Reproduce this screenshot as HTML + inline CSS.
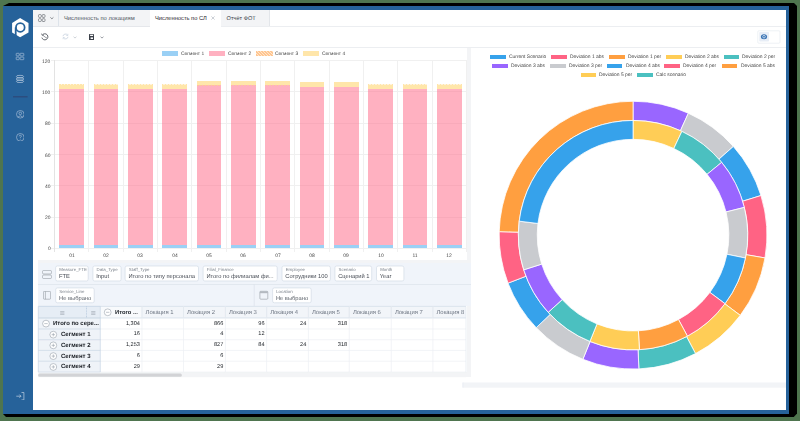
<!DOCTYPE html>
<html><head><meta charset="utf-8"><style>
*{box-sizing:border-box;margin:0;padding:0}
html,body{width:800px;height:421px;overflow:hidden}
body{background:#4f754f;position:relative;font-family:"Liberation Sans",sans-serif;color:#333;text-rendering:geometricPrecision}
.a{position:absolute}
.t{position:absolute;white-space:nowrap;line-height:1;margin-top:1px}
.g{will-change:transform}
#shadow{left:3px;top:3px;width:794px;height:414px;background:#000;clip-path:polygon(6px 0,791px 0,794px 3px,794px 410.6px,790.8px 414px,3px 414px,0 411px,0 3px)}
#win{left:3px;top:6px;width:786px;height:407.5px;background:#26629a}
#content{left:33px;top:9.7px;width:753px;height:400.5px;background:#fff}
.fb{position:absolute;background:#fff;border:0.6px solid #d9e0e8;border-radius:2px}
.fl{position:absolute;font-size:4.35px;color:#7c838c;white-space:nowrap;line-height:1}
.fv{position:absolute;font-size:5.75px;color:#474c55;white-space:nowrap;line-height:1;margin-top:1px}
</style></head>
<body>
<div class="a" id="shadow"></div>
<div class="a" id="win"></div>
<div class="a" id="content"></div>
<div class="a" style="left:33px;top:9.5px;width:117px;height:17px;background:#f3f4f6"></div>
<div class="a" style="left:221.2px;top:9.7px;width:48.6px;height:16.8px;background:#f3f4f6;border-right:0.6px solid #e3e6ea"></div>
<div class="a" style="left:58.3px;top:9.7px;width:0.6px;height:16.8px;background:#dde3ea"></div>
<div class="a" style="left:33px;top:26.3px;width:117px;height:0.6px;background:#e5e7eb"></div>
<div class="a" style="left:221px;top:26.3px;width:565px;height:0.6px;background:#eceef1"></div>
<svg class="a" style="left:0;top:0" width="60" height="30">
<g fill="none" stroke="#6f737a" stroke-width="0.75"><rect x="38.5" y="14.6" width="2.8" height="2.8" rx="0.8"/><rect x="42.2" y="14.6" width="2.8" height="2.8" rx="0.8"/><rect x="38.5" y="18.7" width="2.8" height="2.8" rx="0.8"/><rect x="42.2" y="18.7" width="2.8" height="2.8" rx="0.8"/></g>
<path d="M50.4 17.4 L51.9 18.8 L53.4 17.4" fill="none" stroke="#4a4f57" stroke-width="0.65"/></svg>
<div class="t" style="left:64px;top:15.7px;font-size:5.8px;color:#4f5663">Численность по локациям</div>
<div class="t" style="left:155px;top:15.7px;font-size:5.75px;color:#1f2329">Численность по СЛ</div>
<svg class="a" style="left:210.6px;top:16.0px" width="4" height="4" viewBox="0 0 4 4"><path d="M0.4 0.4 L3.6 3.6 M3.6 0.4 L0.4 3.6" stroke="#a9b0bb" stroke-width="0.6"/></svg>
<div class="t" style="left:226.6px;top:15.7px;font-size:5.6px;color:#3d434c">Отчёт ФОТ</div>
<div class="a" style="left:33px;top:47.1px;width:753px;height:0.7px;background:#eceef1"></div>
<svg class="a" style="left:0;top:0" width="60" height="45">
<path d="M42.4 35.0 A3.05 3.05 0 1 1 41.9 37.6" fill="none" stroke="#4a4f57" stroke-width="0.85"/>
<path d="M41.5 33.6 L42.2 35.3 L43.9 34.9" fill="none" stroke="#4a4f57" stroke-width="0.7"/>
<path d="M42.9 35.3 L45.0 37.0 L47.0 38.1" fill="none" stroke="#6a6f77" stroke-width="0.7"/></svg>
<svg class="a" style="left:61.5px;top:33.2px" width="7" height="7" viewBox="0 0 7 7">
<path d="M1 3.2 A2.5 2.5 0 0 1 5.6 2.2 M6 3.8 A2.5 2.5 0 0 1 1.4 4.8" fill="none" stroke="#c9d3df" stroke-width="0.8"/>
<path d="M5.9 0.8 L5.8 2.5 L4.2 2.4 M1.1 6.2 L1.2 4.5 L2.8 4.6" fill="none" stroke="#c9d3df" stroke-width="0.7"/></svg>
<svg class="a" style="left:73.1px;top:35.5px" width="4" height="3" viewBox="0 0 4 3"><path d="M0.5 0.6 L2 2.1 L3.5 0.6" fill="none" stroke="#b8bec7" stroke-width="0.7"/></svg>
<svg class="a" style="left:88.8px;top:33.8px" width="5.6" height="6.2" viewBox="0 0 5.6 6.2">
<path d="M0 0.5 Q0 0 0.5 0 L4.4 0 L5.6 1.2 L5.6 5.7 Q5.6 6.2 5.1 6.2 L0.5 6.2 Q0 6.2 0 5.7 Z" fill="#3b4049"/>
<rect x="1.1" y="0.7" width="3" height="1.3" fill="#fff"/><rect x="1.6" y="3.4" width="2.4" height="1.6" fill="#fff"/></svg>
<svg class="a" style="left:99.6px;top:35.5px" width="4" height="3" viewBox="0 0 4 3"><path d="M0.5 0.6 L2 2.1 L3.5 0.6" fill="none" stroke="#6e747d" stroke-width="0.7"/></svg>
<svg class="a" style="left:0;top:0" width="800" height="60"><rect x="757.8" y="30.8" width="22.2" height="12.4" rx="1" fill="#fff" stroke="#e3e8ee" stroke-width="0.6"/>
<rect x="759.3" y="31.9" width="9.7" height="9.7" rx="0.8" fill="#e7edf6"/>
<ellipse cx="764" cy="36.7" rx="3.1" ry="2.5" fill="#3a74b5"/><circle cx="764" cy="36.7" r="1.3" fill="none" stroke="#fff" stroke-width="0.6"/></svg>
<svg class="a" style="left:0;top:0" width="40" height="45" viewBox="0 0 40 45">
<path d="M20.1 18.1 L28.5 23 L28.5 32.6 L20.1 37.3 L12.1 32.6 L12.1 23 Z" fill="#fff"/>
<circle cx="20.3" cy="27.4" r="4.35" fill="none" stroke="#26629a" stroke-width="1.75"/>
<rect x="14.8" y="27.4" width="1.8" height="10" fill="#26629a"/></svg>
<svg class="a" style="left:0;top:0" width="33" height="90">
<g fill="none" stroke="#b9cbe0" stroke-width="0.6"><rect x="16.2" y="53.3" width="3.0" height="2.6" rx="0.5"/><rect x="20.1" y="53.3" width="3.7" height="2.6" rx="0.5"/><rect x="16.2" y="57.1" width="3.0" height="2.6" rx="0.5"/><rect x="20.1" y="57.1" width="3.7" height="2.6" rx="0.5"/></g></svg>
<svg class="a" style="left:0;top:0" width="33" height="90">
<g fill="none" stroke="#b9cbe0" stroke-width="0.7"><rect x="16.4" y="75.4" width="7.2" height="2.4" rx="2.6" ry="1.2"/><rect x="16.2" y="77.8" width="7.6" height="2.4" rx="2.8" ry="1.2"/><rect x="16.4" y="80.2" width="7.2" height="2.3" rx="2.6" ry="1.15"/></g></svg>
<svg class="a" style="left:0;top:0" width="33" height="100"><path d="M13 96.8 H27.6" stroke="#2e4776" stroke-width="1.1"/></svg>
<svg class="a" style="left:15.5px;top:110.2px" width="8.6" height="8.6" viewBox="0 0 8.6 8.6">
<g fill="none" stroke="#b6c8de" stroke-width="0.6"><circle cx="4.3" cy="4.3" r="3.8"/><circle cx="4.3" cy="3.4" r="1.3"/><path d="M1.9 7 Q4.3 4.6 6.7 7"/></g></svg>
<svg class="a" style="left:15.5px;top:132.7px" width="8.6" height="8.6" viewBox="0 0 8.6 8.6">
<g fill="none" stroke="#b6c8de" stroke-width="0.6"><circle cx="4.3" cy="4.3" r="3.8"/><path d="M3.2 3.3 Q3.3 2.2 4.3 2.2 Q5.4 2.2 5.4 3.2 Q5.4 4 4.3 4.5 L4.3 5.3"/><path d="M4.3 6 L4.3 6.6"/></g></svg>
<svg class="a" style="left:16px;top:392px" width="8.6" height="8.4" viewBox="0 0 8.6 8.4">
<g fill="none" stroke="#c3d3e4" stroke-width="0.7"><path d="M0.3 4.2 L5 4.2 M3.4 2.6 L5 4.2 L3.4 5.8"/><path d="M5.5 0.5 L7.9 0.5 L7.9 7.9 L5.5 7.9"/></g></svg>
<div class="a" style="left:161.8px;top:51.3px;width:16.5px;height:5px;background:#9ad0f5"></div>
<div class="t g" style="left:180.8px;top:51.5px;font-size:4.9px;color:#444">Сегмент 1</div>
<div class="a" style="left:208.8px;top:51.3px;width:16.5px;height:5px;background:#ffb1c1"></div>
<div class="t g" style="left:227.8px;top:51.5px;font-size:4.9px;color:#444">Сегмент 2</div>
<div class="a" style="left:256px;top:51.3px;width:16.5px;height:5px;background:repeating-linear-gradient(45deg,#ffc590 0 1.5px,#ffe6cc 1.5px 2.2px)"></div>
<div class="t g" style="left:274.5px;top:51.5px;font-size:4.9px;color:#444">Сегмент 3</div>
<div class="a" style="left:302.6px;top:51.3px;width:16.5px;height:5px;background:#ffe6aa"></div>
<div class="t g" style="left:321.8px;top:51.5px;font-size:4.9px;color:#444">Сегмент 4</div>
<div class="a" style="left:51.3px;top:60.10px;width:415.10px;height:0.6px;background:#f0f0f0"></div>
<div class="t g" style="right:749.6px;top:59.60px;font-size:4.95px;color:#444;text-align:right">120</div>
<div class="a" style="left:51.3px;top:91.40px;width:415.10px;height:0.6px;background:#f0f0f0"></div>
<div class="t g" style="right:749.6px;top:90.90px;font-size:4.95px;color:#444;text-align:right">100</div>
<div class="a" style="left:51.3px;top:122.70px;width:415.10px;height:0.6px;background:#f0f0f0"></div>
<div class="t g" style="right:749.6px;top:122.20px;font-size:4.95px;color:#444;text-align:right">80</div>
<div class="a" style="left:51.3px;top:154.00px;width:415.10px;height:0.6px;background:#f0f0f0"></div>
<div class="t g" style="right:749.6px;top:153.50px;font-size:4.95px;color:#444;text-align:right">60</div>
<div class="a" style="left:51.3px;top:185.30px;width:415.10px;height:0.6px;background:#f0f0f0"></div>
<div class="t g" style="right:749.6px;top:184.80px;font-size:4.95px;color:#444;text-align:right">40</div>
<div class="a" style="left:51.3px;top:216.60px;width:415.10px;height:0.6px;background:#f0f0f0"></div>
<div class="t g" style="right:749.6px;top:216.10px;font-size:4.95px;color:#444;text-align:right">20</div>
<div class="a" style="left:51.3px;top:247.90px;width:415.10px;height:0.6px;background:#f0f0f0"></div>
<div class="t g" style="right:749.6px;top:247.40px;font-size:4.95px;color:#444;text-align:right">0</div>
<div class="a" style="left:54.10px;top:60.40px;width:0.6px;height:191.20px;background:#e3e3e3"></div>
<div class="a" style="left:88.43px;top:60.40px;width:0.6px;height:191.20px;background:#f0f0f0"></div>
<div class="a" style="left:122.77px;top:60.40px;width:0.6px;height:191.20px;background:#f0f0f0"></div>
<div class="a" style="left:157.10px;top:60.40px;width:0.6px;height:191.20px;background:#f0f0f0"></div>
<div class="a" style="left:191.43px;top:60.40px;width:0.6px;height:191.20px;background:#f0f0f0"></div>
<div class="a" style="left:225.76px;top:60.40px;width:0.6px;height:191.20px;background:#f0f0f0"></div>
<div class="a" style="left:260.10px;top:60.40px;width:0.6px;height:191.20px;background:#f0f0f0"></div>
<div class="a" style="left:294.43px;top:60.40px;width:0.6px;height:191.20px;background:#f0f0f0"></div>
<div class="a" style="left:328.76px;top:60.40px;width:0.6px;height:191.20px;background:#f0f0f0"></div>
<div class="a" style="left:363.10px;top:60.40px;width:0.6px;height:191.20px;background:#f0f0f0"></div>
<div class="a" style="left:397.43px;top:60.40px;width:0.6px;height:191.20px;background:#f0f0f0"></div>
<div class="a" style="left:431.76px;top:60.40px;width:0.6px;height:191.20px;background:#f0f0f0"></div>
<div class="a" style="left:466.10px;top:60.40px;width:0.6px;height:191.20px;background:#f0f0f0"></div>
<div class="a" style="left:59.30px;top:245.0px;width:24.6px;height:3.20px;background:rgba(54,162,235,0.5)"></div>
<div class="a" style="left:59.30px;top:88.7px;width:24.6px;height:156.30px;background:rgba(255,99,132,0.5)"></div>
<div class="a" style="left:59.30px;top:83.6px;width:24.6px;height:5.10px;background:rgba(255,205,86,0.5)"></div>
<div class="a" style="left:59.30px;top:83.60px;width:24.6px;height:1px;background:repeating-linear-gradient(90deg,transparent 0 1.5px,#fff3dc 1.5px 3px)"></div>
<div class="t g" style="left:61.57px;width:20px;text-align:center;top:254.1px;font-size:4.95px;color:#444">01</div>
<div class="a" style="left:93.63px;top:245.0px;width:24.6px;height:3.20px;background:rgba(54,162,235,0.5)"></div>
<div class="a" style="left:93.63px;top:88.7px;width:24.6px;height:156.30px;background:rgba(255,99,132,0.5)"></div>
<div class="a" style="left:93.63px;top:83.6px;width:24.6px;height:5.10px;background:rgba(255,205,86,0.5)"></div>
<div class="a" style="left:93.63px;top:83.60px;width:24.6px;height:1px;background:repeating-linear-gradient(90deg,transparent 0 1.5px,#fff3dc 1.5px 3px)"></div>
<div class="t g" style="left:95.90px;width:20px;text-align:center;top:254.1px;font-size:4.95px;color:#444">02</div>
<div class="a" style="left:127.97px;top:245.0px;width:24.6px;height:3.20px;background:rgba(54,162,235,0.5)"></div>
<div class="a" style="left:127.97px;top:88.7px;width:24.6px;height:156.30px;background:rgba(255,99,132,0.5)"></div>
<div class="a" style="left:127.97px;top:83.6px;width:24.6px;height:5.10px;background:rgba(255,205,86,0.5)"></div>
<div class="a" style="left:127.97px;top:83.60px;width:24.6px;height:1px;background:repeating-linear-gradient(90deg,transparent 0 1.5px,#fff3dc 1.5px 3px)"></div>
<div class="t g" style="left:130.23px;width:20px;text-align:center;top:254.1px;font-size:4.95px;color:#444">03</div>
<div class="a" style="left:162.30px;top:245.0px;width:24.6px;height:3.20px;background:rgba(54,162,235,0.5)"></div>
<div class="a" style="left:162.30px;top:88.7px;width:24.6px;height:156.30px;background:rgba(255,99,132,0.5)"></div>
<div class="a" style="left:162.30px;top:83.6px;width:24.6px;height:5.10px;background:rgba(255,205,86,0.5)"></div>
<div class="a" style="left:162.30px;top:83.60px;width:24.6px;height:1px;background:repeating-linear-gradient(90deg,transparent 0 1.5px,#fff3dc 1.5px 3px)"></div>
<div class="t g" style="left:164.57px;width:20px;text-align:center;top:254.1px;font-size:4.95px;color:#444">04</div>
<div class="a" style="left:196.63px;top:245.0px;width:24.6px;height:3.20px;background:rgba(54,162,235,0.5)"></div>
<div class="a" style="left:196.63px;top:85.1px;width:24.6px;height:159.90px;background:rgba(255,99,132,0.5)"></div>
<div class="a" style="left:196.63px;top:80.8px;width:24.6px;height:4.30px;background:rgba(255,205,86,0.5)"></div>
<div class="a" style="left:196.63px;top:85.10px;width:24.6px;height:1px;background:repeating-linear-gradient(90deg,#ffc49a 0 1.5px,transparent 1.5px 3px)"></div>
<div class="t g" style="left:198.90px;width:20px;text-align:center;top:254.1px;font-size:4.95px;color:#444">05</div>
<div class="a" style="left:230.97px;top:245.0px;width:24.6px;height:3.20px;background:rgba(54,162,235,0.5)"></div>
<div class="a" style="left:230.97px;top:85.1px;width:24.6px;height:159.90px;background:rgba(255,99,132,0.5)"></div>
<div class="a" style="left:230.97px;top:80.8px;width:24.6px;height:4.30px;background:rgba(255,205,86,0.5)"></div>
<div class="a" style="left:230.97px;top:85.10px;width:24.6px;height:1px;background:repeating-linear-gradient(90deg,#ffc49a 0 1.5px,transparent 1.5px 3px)"></div>
<div class="t g" style="left:233.23px;width:20px;text-align:center;top:254.1px;font-size:4.95px;color:#444">06</div>
<div class="a" style="left:265.30px;top:245.0px;width:24.6px;height:3.20px;background:rgba(54,162,235,0.5)"></div>
<div class="a" style="left:265.30px;top:85.1px;width:24.6px;height:159.90px;background:rgba(255,99,132,0.5)"></div>
<div class="a" style="left:265.30px;top:80.8px;width:24.6px;height:4.30px;background:rgba(255,205,86,0.5)"></div>
<div class="a" style="left:265.30px;top:85.10px;width:24.6px;height:1px;background:repeating-linear-gradient(90deg,#ffc49a 0 1.5px,transparent 1.5px 3px)"></div>
<div class="t g" style="left:267.56px;width:20px;text-align:center;top:254.1px;font-size:4.95px;color:#444">07</div>
<div class="a" style="left:299.63px;top:245.0px;width:24.6px;height:3.20px;background:rgba(54,162,235,0.5)"></div>
<div class="a" style="left:299.63px;top:86.6px;width:24.6px;height:158.40px;background:rgba(255,99,132,0.5)"></div>
<div class="a" style="left:299.63px;top:82.4px;width:24.6px;height:4.20px;background:rgba(255,205,86,0.5)"></div>
<div class="t g" style="left:301.90px;width:20px;text-align:center;top:254.1px;font-size:4.95px;color:#444">08</div>
<div class="a" style="left:333.96px;top:245.0px;width:24.6px;height:3.20px;background:rgba(54,162,235,0.5)"></div>
<div class="a" style="left:333.96px;top:86.6px;width:24.6px;height:158.40px;background:rgba(255,99,132,0.5)"></div>
<div class="a" style="left:333.96px;top:82.4px;width:24.6px;height:4.20px;background:rgba(255,205,86,0.5)"></div>
<div class="t g" style="left:336.23px;width:20px;text-align:center;top:254.1px;font-size:4.95px;color:#444">09</div>
<div class="a" style="left:368.30px;top:245.0px;width:24.6px;height:3.20px;background:rgba(54,162,235,0.5)"></div>
<div class="a" style="left:368.30px;top:88.6px;width:24.6px;height:156.40px;background:rgba(255,99,132,0.5)"></div>
<div class="a" style="left:368.30px;top:83.8px;width:24.6px;height:4.80px;background:rgba(255,205,86,0.5)"></div>
<div class="a" style="left:368.30px;top:83.80px;width:24.6px;height:1px;background:repeating-linear-gradient(90deg,transparent 0 1.5px,#fff3dc 1.5px 3px)"></div>
<div class="t g" style="left:370.56px;width:20px;text-align:center;top:254.1px;font-size:4.95px;color:#444">10</div>
<div class="a" style="left:402.63px;top:245.0px;width:24.6px;height:3.20px;background:rgba(54,162,235,0.5)"></div>
<div class="a" style="left:402.63px;top:88.6px;width:24.6px;height:156.40px;background:rgba(255,99,132,0.5)"></div>
<div class="a" style="left:402.63px;top:83.8px;width:24.6px;height:4.80px;background:rgba(255,205,86,0.5)"></div>
<div class="a" style="left:402.63px;top:83.80px;width:24.6px;height:1px;background:repeating-linear-gradient(90deg,transparent 0 1.5px,#fff3dc 1.5px 3px)"></div>
<div class="t g" style="left:404.90px;width:20px;text-align:center;top:254.1px;font-size:4.95px;color:#444">11</div>
<div class="a" style="left:436.96px;top:245.0px;width:24.6px;height:3.20px;background:rgba(54,162,235,0.5)"></div>
<div class="a" style="left:436.96px;top:88.6px;width:24.6px;height:156.40px;background:rgba(255,99,132,0.5)"></div>
<div class="a" style="left:436.96px;top:83.8px;width:24.6px;height:4.80px;background:rgba(255,205,86,0.5)"></div>
<div class="a" style="left:436.96px;top:83.80px;width:24.6px;height:1px;background:repeating-linear-gradient(90deg,transparent 0 1.5px,#fff3dc 1.5px 3px)"></div>
<div class="t g" style="left:439.23px;width:20px;text-align:center;top:254.1px;font-size:4.95px;color:#444">12</div>
<div class="a" style="left:466.6px;top:47.6px;width:4.4px;height:329.4px;background:#f3f4f6"></div>
<div class="a" style="left:38px;top:259.6px;width:433px;height:3.4px;background:#f3f4f6"></div>
<div class="a" style="left:38px;top:372.2px;width:433px;height:4.8px;background:#f3f4f6"></div>
<div class="a" style="left:38px;top:263px;width:433px;height:42.5px;background:#f0f4fa"></div>
<div class="a" style="left:38px;top:284.1px;width:433px;height:0.5px;background:#e2e8ef"></div>
<svg class="a" style="left:0;top:0" width="480" height="310"><path d="M254.2 284.4 V306" stroke="#d8dfe8" stroke-width="0.6"/></svg>
<svg class="a" style="left:41.8px;top:269.8px" width="10" height="9.2" viewBox="0 0 10 9.2">
<g fill="none" stroke="#9298a0" stroke-width="0.6"><rect x="0.5" y="0.4" width="9" height="3.6" rx="1.2"/><rect x="0.5" y="5" width="9" height="3.6" rx="1.2"/></g></svg>
<svg class="a" style="left:42.9px;top:291.2px" width="8" height="8.6" viewBox="0 0 8 8.6">
<g fill="none" stroke="#9298a0" stroke-width="0.6"><rect x="0.4" y="0.4" width="7.2" height="7.8" rx="0.8"/><path d="M2.4 0.4 L2.4 8.2"/></g></svg>
<svg class="a" style="left:0;top:0" width="480" height="310">
<rect x="259.9" y="291.3" width="7.9" height="7.9" rx="0.8" fill="none" stroke="#9298a0" stroke-width="0.6"/><rect x="259.9" y="291.3" width="7.9" height="1.9" fill="#b4b9c0"/></svg>
<svg class="a" style="left:0;top:0" width="480" height="310"><rect x="55.60" y="266.0" width="32.60" height="15.0" rx="1.8" fill="#fff" stroke="#d3dbe5" stroke-width="0.7"/></svg>
<div class="fl" style="left:59.3px;top:268.4px">Measure_FTE</div>
<div class="fv" style="left:58.9px;top:274.0px">FTE</div>
<svg class="a" style="left:0;top:0" width="480" height="310"><rect x="92.90" y="266.0" width="28.20" height="15.0" rx="1.8" fill="#fff" stroke="#d3dbe5" stroke-width="0.7"/></svg>
<div class="fl" style="left:96.6px;top:268.4px">Data_Type</div>
<div class="fv" style="left:96.2px;top:274.0px">Input</div>
<svg class="a" style="left:0;top:0" width="480" height="310"><rect x="125.10" y="266.0" width="73.40" height="15.0" rx="1.8" fill="#fff" stroke="#d3dbe5" stroke-width="0.7"/></svg>
<div class="fl" style="left:128.8px;top:268.4px">Staff_Type</div>
<div class="fv" style="left:128.4px;top:274.0px">Итого по типу персонала</div>
<svg class="a" style="left:0;top:0" width="480" height="310"><rect x="203.10" y="266.0" width="74.10" height="15.0" rx="1.8" fill="#fff" stroke="#d3dbe5" stroke-width="0.7"/></svg>
<div class="fl" style="left:206.8px;top:268.4px">Filial_Finance</div>
<div class="fv" style="left:206.4px;top:274.0px">Итого по филиалам фи...</div>
<svg class="a" style="left:0;top:0" width="480" height="310"><rect x="282.00" y="266.0" width="48.40" height="15.0" rx="1.8" fill="#fff" stroke="#d3dbe5" stroke-width="0.7"/></svg>
<div class="fl" style="left:285.7px;top:268.4px">Employee</div>
<div class="fv" style="left:285.3px;top:274.0px">Сотрудники 100</div>
<svg class="a" style="left:0;top:0" width="480" height="310"><rect x="334.90" y="266.0" width="36.80" height="15.0" rx="1.8" fill="#fff" stroke="#d3dbe5" stroke-width="0.7"/></svg>
<div class="fl" style="left:338.6px;top:268.4px">Scenario</div>
<div class="fv" style="left:338.2px;top:274.0px">Сценарий 1</div>
<svg class="a" style="left:0;top:0" width="480" height="310"><rect x="376.50" y="266.0" width="27.40" height="15.0" rx="1.8" fill="#fff" stroke="#d3dbe5" stroke-width="0.7"/></svg>
<div class="fl" style="left:380.2px;top:268.4px">Month</div>
<div class="fv" style="left:379.8px;top:274.0px">Year</div>
<svg class="a" style="left:0;top:0" width="480" height="310"><rect x="55.70" y="287.9" width="38.50" height="14.9" rx="1.8" fill="#fff" stroke="#d3dbe5" stroke-width="0.7"/></svg>
<div class="fl" style="left:59.3px;top:290.3px">Service_Line</div>
<div class="fv" style="left:59.0px;top:296.2px;color:#5d636b">Не выбрано</div>
<svg class="a" style="left:0;top:0" width="480" height="310"><rect x="272.60" y="287.9" width="38.60" height="14.9" rx="1.8" fill="#fff" stroke="#d3dbe5" stroke-width="0.7"/></svg>
<div class="fl" style="left:276.2px;top:290.3px">Location</div>
<div class="fv" style="left:275.9px;top:296.2px;color:#5d636b">Не выбрано</div>
<svg class="a" style="left:0;top:0" width="480" height="380"><rect x="38.3" y="306.4" width="427.70" height="11.60" fill="#f2f5f9"/><rect x="38.3" y="306.4" width="62.00" height="11.60" fill="#e6edf5"/><rect x="100.3" y="306.4" width="41.70" height="11.60" fill="#f8fafc"/><rect x="38.3" y="318.0" width="62.00" height="54.10" fill="#eff3f8"/><rect x="100.3" y="318.0" width="365.70" height="54.10" fill="#fff"/><path d="M38.3 306.4 H466.0" stroke="#d0dbe7" stroke-width="0.7"/><path d="M38.3 306.4 H100.3" stroke="#cbd8e6" stroke-width="0.7"/><path d="M38.3 318.0 H466.0" stroke="#d0dbe7" stroke-width="0.7"/><path d="M38.3 318.0 H100.3" stroke="#cbd8e6" stroke-width="0.7"/><path d="M38.3 329.0 H466.0" stroke="#eceff3" stroke-width="0.7"/><path d="M38.3 329.0 H100.3" stroke="#cbd8e6" stroke-width="0.7"/><path d="M38.3 339.7 H466.0" stroke="#eceff3" stroke-width="0.7"/><path d="M38.3 339.7 H100.3" stroke="#cbd8e6" stroke-width="0.7"/><path d="M38.3 350.4 H466.0" stroke="#eceff3" stroke-width="0.7"/><path d="M38.3 350.4 H100.3" stroke="#cbd8e6" stroke-width="0.7"/><path d="M38.3 361.2 H466.0" stroke="#eceff3" stroke-width="0.7"/><path d="M38.3 361.2 H100.3" stroke="#cbd8e6" stroke-width="0.7"/><path d="M38.3 372.1 H466.0" stroke="#eceff3" stroke-width="0.7"/><path d="M38.3 372.1 H100.3" stroke="#cbd8e6" stroke-width="0.7"/><path d="M38.3 306.4 V372.1" stroke="#c5d4e4" stroke-width="0.7"/><path d="M100.3 306.4 V372.1" stroke="#c5d4e4" stroke-width="0.7"/><path d="M142 306.4 V372.1" stroke="#eceff3" stroke-width="0.7"/><path d="M142 306.4 V318.0" stroke="#dfe6ee" stroke-width="0.7"/><path d="M183.5 306.4 V372.1" stroke="#eceff3" stroke-width="0.7"/><path d="M183.5 306.4 V318.0" stroke="#dfe6ee" stroke-width="0.7"/><path d="M225.4 306.4 V372.1" stroke="#eceff3" stroke-width="0.7"/><path d="M225.4 306.4 V318.0" stroke="#dfe6ee" stroke-width="0.7"/><path d="M266.6 306.4 V372.1" stroke="#eceff3" stroke-width="0.7"/><path d="M266.6 306.4 V318.0" stroke="#dfe6ee" stroke-width="0.7"/><path d="M308.4 306.4 V372.1" stroke="#eceff3" stroke-width="0.7"/><path d="M308.4 306.4 V318.0" stroke="#dfe6ee" stroke-width="0.7"/><path d="M349.3 306.4 V372.1" stroke="#eceff3" stroke-width="0.7"/><path d="M349.3 306.4 V318.0" stroke="#dfe6ee" stroke-width="0.7"/><path d="M391.3 306.4 V372.1" stroke="#eceff3" stroke-width="0.7"/><path d="M391.3 306.4 V318.0" stroke="#dfe6ee" stroke-width="0.7"/><path d="M432.9 306.4 V372.1" stroke="#eceff3" stroke-width="0.7"/><path d="M432.9 306.4 V318.0" stroke="#dfe6ee" stroke-width="0.7"/><path d="M466.0 306.4 V372.1" stroke="#e3e9f0" stroke-width="0.7"/><path d="M86.5 306.4 V318.0" stroke="#a9bfd6" stroke-width="0.6" stroke-dasharray="1 0.6"/><rect x="38" y="372.6" width="428" height="4.6" fill="#f3f4f6"/><rect x="38.2" y="373.5" width="143.6" height="3.3" rx="1.5" fill="#d2d3d6"/></svg>
<svg class="a" style="left:60.00px;top:310.50px" width="4.6" height="4" viewBox="0 0 4.6 4"><path d="M0.2 0.6 H4.4 M0.2 2 H4.4 M0.2 3.4 H4.4" stroke="#9aa3ad" stroke-width="0.6"/></svg>
<svg class="a" style="left:91.00px;top:310.50px" width="4.6" height="4" viewBox="0 0 4.6 4"><path d="M0.2 0.6 H4.4 M0.2 2 H4.4 M0.2 3.4 H4.4" stroke="#9aa3ad" stroke-width="0.6"/></svg>
<svg class="a" style="left:0;top:0" width="800" height="421"><circle cx="107.7" cy="312.3" r="3.4" fill="#fff" stroke="#8f98a3" stroke-width="0.55"/><path d="M106.00 312.30 H109.40" stroke="#8f98a3" stroke-width="0.55"/></svg>
<div class="t" style="left:115.0px;top:309.6px;font-size:5.8px;font-weight:bold;color:#1e2329">Итого ...</div>
<div class="t" style="left:145.6px;top:309.7px;font-size:5.9px;color:#6f7784">Локация 1</div>
<div class="t" style="left:187.1px;top:309.7px;font-size:5.9px;color:#6f7784">Локация 2</div>
<div class="t" style="left:229.0px;top:309.7px;font-size:5.9px;color:#6f7784">Локация 3</div>
<div class="t" style="left:270.2px;top:309.7px;font-size:5.9px;color:#6f7784">Локация 4</div>
<div class="t" style="left:312.0px;top:309.7px;font-size:5.9px;color:#6f7784">Локация 5</div>
<div class="t" style="left:352.9px;top:309.7px;font-size:5.9px;color:#6f7784">Локация 6</div>
<div class="t" style="left:394.9px;top:309.7px;font-size:5.9px;color:#6f7784">Локация 7</div>
<div class="t" style="left:436.5px;top:309.7px;font-size:5.9px;color:#6f7784">Локация 8</div>
<svg class="a" style="left:0;top:0" width="800" height="421"><circle cx="46.0" cy="323.6" r="3.4" fill="#fff" stroke="#8f98a3" stroke-width="0.55"/><path d="M44.30 323.60 H47.70" stroke="#8f98a3" stroke-width="0.55"/></svg>
<div class="t" style="left:53.1px;top:320.7px;font-size:5.95px;font-weight:bold;color:#1a1e24">Итого по сере...</div>
<svg class="a" style="left:0;top:0" width="800" height="421"><circle cx="53.3" cy="334.65000000000003" r="3.4" fill="#fff" stroke="#8f98a3" stroke-width="0.55"/><path d="M51.60 334.65 H55.00 M53.30 332.95 V336.35" stroke="#8f98a3" stroke-width="0.55"/></svg>
<div class="t" style="left:61.0px;top:331.05px;font-size:6.0px;font-weight:bold;color:#1a1e24">Сегмент 1</div>
<svg class="a" style="left:0;top:0" width="800" height="421"><circle cx="53.3" cy="345.34999999999997" r="3.4" fill="#fff" stroke="#8f98a3" stroke-width="0.55"/><path d="M51.60 345.35 H55.00 M53.30 343.65 V347.05" stroke="#8f98a3" stroke-width="0.55"/></svg>
<div class="t" style="left:61.0px;top:341.75px;font-size:6.0px;font-weight:bold;color:#1a1e24">Сегмент 2</div>
<svg class="a" style="left:0;top:0" width="800" height="421"><circle cx="53.3" cy="356.09999999999997" r="3.4" fill="#fff" stroke="#8f98a3" stroke-width="0.55"/><path d="M51.60 356.10 H55.00 M53.30 354.40 V357.80" stroke="#8f98a3" stroke-width="0.55"/></svg>
<div class="t" style="left:61.0px;top:352.50px;font-size:6.0px;font-weight:bold;color:#1a1e24">Сегмент 3</div>
<svg class="a" style="left:0;top:0" width="800" height="421"><circle cx="53.3" cy="366.95" r="3.4" fill="#fff" stroke="#8f98a3" stroke-width="0.55"/><path d="M51.60 366.95 H55.00 M53.30 365.25 V368.65" stroke="#8f98a3" stroke-width="0.55"/></svg>
<div class="t" style="left:61.0px;top:363.35px;font-size:6.0px;font-weight:bold;color:#1a1e24">Сегмент 4</div>
<div class="t" style="right:660.10px;top:320.60px;font-size:5.6px;color:#1c2026">1,304</div>
<div class="t" style="right:576.70px;top:320.60px;font-size:5.6px;color:#1c2026">866</div>
<div class="t" style="right:535.50px;top:320.60px;font-size:5.6px;color:#1c2026">96</div>
<div class="t" style="right:493.70px;top:320.60px;font-size:5.6px;color:#1c2026">24</div>
<div class="t" style="right:452.80px;top:320.60px;font-size:5.6px;color:#1c2026">318</div>
<div class="t" style="right:660.10px;top:331.45px;font-size:5.6px;color:#1c2026">16</div>
<div class="t" style="right:576.70px;top:331.45px;font-size:5.6px;color:#1c2026">4</div>
<div class="t" style="right:535.50px;top:331.45px;font-size:5.6px;color:#1c2026">12</div>
<div class="t" style="right:660.10px;top:342.15px;font-size:5.6px;color:#1c2026">1,253</div>
<div class="t" style="right:576.70px;top:342.15px;font-size:5.6px;color:#1c2026">827</div>
<div class="t" style="right:535.50px;top:342.15px;font-size:5.6px;color:#1c2026">84</div>
<div class="t" style="right:493.70px;top:342.15px;font-size:5.6px;color:#1c2026">24</div>
<div class="t" style="right:452.80px;top:342.15px;font-size:5.6px;color:#1c2026">318</div>
<div class="t" style="right:660.10px;top:352.90px;font-size:5.6px;color:#1c2026">6</div>
<div class="t" style="right:576.70px;top:352.90px;font-size:5.6px;color:#1c2026">6</div>
<div class="t" style="right:660.10px;top:363.75px;font-size:5.6px;color:#1c2026">29</div>
<div class="t" style="right:576.70px;top:363.75px;font-size:5.6px;color:#1c2026">29</div>
<svg class="a" style="left:0;top:0" width="800" height="421"><rect x="462.6" y="382.5" width="323.4" height="5.2" fill="#f2f4f7"/><path d="M462.9 382.5 V387.7" stroke="#e0e6ee" stroke-width="0.6"/></svg>
<div class="a" style="left:490.4px;top:54.7px;width:15.8px;height:4px;background:#36a2eb"></div>
<div class="t g" style="left:509.3px;top:54.5px;font-size:4.95px;color:#444">Current Scenario</div>
<div class="a" style="left:551.4px;top:54.7px;width:15.8px;height:4px;background:#ff6384"></div>
<div class="t g" style="left:570.3px;top:54.5px;font-size:4.95px;color:#444">Deviation 1 abs</div>
<div class="a" style="left:608.8px;top:54.7px;width:15.8px;height:4px;background:#ff9f40"></div>
<div class="t g" style="left:627.7px;top:54.5px;font-size:4.95px;color:#444">Deviation 1 per</div>
<div class="a" style="left:666px;top:54.7px;width:15.8px;height:4px;background:#ffcd56"></div>
<div class="t g" style="left:684.9px;top:54.5px;font-size:4.95px;color:#444">Deviation 2 abs</div>
<div class="a" style="left:723.5px;top:54.7px;width:15.8px;height:4px;background:#4bc0c0"></div>
<div class="t g" style="left:742.4px;top:54.5px;font-size:4.95px;color:#444">Deviation 2 per</div>
<div class="a" style="left:491.9px;top:64.0px;width:15.8px;height:4px;background:#9966ff"></div>
<div class="t g" style="left:510.8px;top:63.8px;font-size:4.95px;color:#444">Deviation 3 abs</div>
<div class="a" style="left:549.9px;top:64.0px;width:15.8px;height:4px;background:#c9cbcf"></div>
<div class="t g" style="left:568.8px;top:63.8px;font-size:4.95px;color:#444">Deviation 3 per</div>
<div class="a" style="left:606.7px;top:64.0px;width:15.8px;height:4px;background:#36a2eb"></div>
<div class="t g" style="left:625.6px;top:63.8px;font-size:4.95px;color:#444">Deviation 4 abs</div>
<div class="a" style="left:664.1px;top:64.0px;width:15.8px;height:4px;background:#ff6384"></div>
<div class="t g" style="left:683.0px;top:63.8px;font-size:4.95px;color:#444">Deviation 4 per</div>
<div class="a" style="left:721.6px;top:64.0px;width:15.8px;height:4px;background:#ff9f40"></div>
<div class="t g" style="left:740.5px;top:63.8px;font-size:4.95px;color:#444">Deviation 5 abs</div>
<div class="a" style="left:580.5px;top:73.0px;width:15.8px;height:4px;background:#ffcd56"></div>
<div class="t g" style="left:599.4px;top:72.8px;font-size:4.95px;color:#444">Deviation 5 per</div>
<div class="a" style="left:637.3px;top:73.0px;width:15.8px;height:4px;background:#4bc0c0"></div>
<div class="t g" style="left:656.2px;top:72.8px;font-size:4.95px;color:#444">Calc scenario</div>
<svg class="a" style="left:0;top:0" width="800" height="421"><path d="M633.05 101.25 A133.9 133.9 0 0 1 688.36 113.21 L680.43 130.69 A114.7 114.7 0 0 0 633.05 120.45 Z" fill="#9966ff" stroke="#fff" stroke-width="0.8" stroke-linejoin="bevel"/><path d="M688.36 113.21 A133.9 133.9 0 0 1 733.34 146.43 L718.96 159.15 A114.7 114.7 0 0 0 680.43 130.69 Z" fill="#c9cbcf" stroke="#fff" stroke-width="0.8" stroke-linejoin="bevel"/><path d="M733.34 146.43 A133.9 133.9 0 0 1 760.96 195.55 L742.62 201.23 A114.7 114.7 0 0 0 718.96 159.15 Z" fill="#36a2eb" stroke="#fff" stroke-width="0.8" stroke-linejoin="bevel"/><path d="M760.96 195.55 A133.9 133.9 0 0 1 765.00 257.94 L746.08 254.67 A114.7 114.7 0 0 0 742.62 201.23 Z" fill="#ff6384" stroke="#fff" stroke-width="0.8" stroke-linejoin="bevel"/><path d="M765.00 257.94 A133.9 133.9 0 0 1 740.27 315.36 L724.89 303.86 A114.7 114.7 0 0 0 746.08 254.67 Z" fill="#ff9f40" stroke="#fff" stroke-width="0.8" stroke-linejoin="bevel"/><path d="M740.27 315.36 A133.9 133.9 0 0 1 695.50 353.60 L686.54 336.61 A114.7 114.7 0 0 0 724.89 303.86 Z" fill="#ffcd56" stroke="#fff" stroke-width="0.8" stroke-linejoin="bevel"/><path d="M695.50 353.60 A133.9 133.9 0 0 1 638.89 368.92 L638.05 349.74 A114.7 114.7 0 0 0 686.54 336.61 Z" fill="#4bc0c0" stroke="#fff" stroke-width="0.8" stroke-linejoin="bevel"/><path d="M638.89 368.92 A133.9 133.9 0 0 1 582.89 359.30 L590.08 341.50 A114.7 114.7 0 0 0 638.05 349.74 Z" fill="#9966ff" stroke="#fff" stroke-width="0.8" stroke-linejoin="bevel"/><path d="M582.89 359.30 A133.9 133.9 0 0 1 536.24 327.66 L550.13 314.39 A114.7 114.7 0 0 0 590.08 341.50 Z" fill="#c9cbcf" stroke="#fff" stroke-width="0.8" stroke-linejoin="bevel"/><path d="M536.24 327.66 A133.9 133.9 0 0 1 508.04 283.14 L525.97 276.25 A114.7 114.7 0 0 0 550.13 314.39 Z" fill="#36a2eb" stroke="#fff" stroke-width="0.8" stroke-linejoin="bevel"/><path d="M508.04 283.14 A133.9 133.9 0 0 1 499.20 231.64 L518.39 232.15 A114.7 114.7 0 0 0 525.97 276.25 Z" fill="#ff6384" stroke="#fff" stroke-width="0.8" stroke-linejoin="bevel"/><path d="M499.20 231.64 A133.9 133.9 0 0 1 633.05 101.25 L633.05 120.45 A114.7 114.7 0 0 0 518.39 232.15 Z" fill="#ff9f40" stroke="#fff" stroke-width="0.8" stroke-linejoin="bevel"/><path d="M633.05 120.45 A114.7 114.7 0 0 1 681.89 131.37 L673.84 148.47 A95.8 95.8 0 0 0 633.05 139.35 Z" fill="#ffcd56" stroke="#fff" stroke-width="0.8" stroke-linejoin="bevel"/><path d="M681.89 131.37 A114.7 114.7 0 0 1 721.68 162.35 L707.08 174.34 A95.8 95.8 0 0 0 673.84 148.47 Z" fill="#4bc0c0" stroke="#fff" stroke-width="0.8" stroke-linejoin="bevel"/><path d="M721.68 162.35 A114.7 114.7 0 0 1 744.34 207.40 L726.00 211.97 A95.8 95.8 0 0 0 707.08 174.34 Z" fill="#9966ff" stroke="#fff" stroke-width="0.8" stroke-linejoin="bevel"/><path d="M744.34 207.40 A114.7 114.7 0 0 1 745.45 258.02 L726.93 254.25 A95.8 95.8 0 0 0 726.00 211.97 Z" fill="#c9cbcf" stroke="#fff" stroke-width="0.8" stroke-linejoin="bevel"/><path d="M745.45 258.02 A114.7 114.7 0 0 1 725.01 303.70 L709.86 292.40 A95.8 95.8 0 0 0 726.93 254.25 Z" fill="#36a2eb" stroke="#fff" stroke-width="0.8" stroke-linejoin="bevel"/><path d="M725.01 303.70 A114.7 114.7 0 0 1 687.43 336.14 L678.47 319.50 A95.8 95.8 0 0 0 709.86 292.40 Z" fill="#ff6384" stroke="#fff" stroke-width="0.8" stroke-linejoin="bevel"/><path d="M687.43 336.14 A114.7 114.7 0 0 1 639.45 349.67 L638.40 330.80 A95.8 95.8 0 0 0 678.47 319.50 Z" fill="#ff9f40" stroke="#fff" stroke-width="0.8" stroke-linejoin="bevel"/><path d="M639.45 349.67 A114.7 114.7 0 0 1 589.90 341.42 L597.01 323.91 A95.8 95.8 0 0 0 638.40 330.80 Z" fill="#ffcd56" stroke="#fff" stroke-width="0.8" stroke-linejoin="bevel"/><path d="M589.90 341.42 A114.7 114.7 0 0 1 548.21 312.34 L562.19 299.62 A95.8 95.8 0 0 0 597.01 323.91 Z" fill="#4bc0c0" stroke="#fff" stroke-width="0.8" stroke-linejoin="bevel"/><path d="M548.21 312.34 A114.7 114.7 0 0 1 523.72 269.83 L541.73 264.12 A95.8 95.8 0 0 0 562.19 299.62 Z" fill="#9966ff" stroke="#fff" stroke-width="0.8" stroke-linejoin="bevel"/><path d="M523.72 269.83 A114.7 114.7 0 0 1 519.20 221.17 L537.96 223.47 A95.8 95.8 0 0 0 541.73 264.12 Z" fill="#c9cbcf" stroke="#fff" stroke-width="0.8" stroke-linejoin="bevel"/><path d="M519.20 221.17 A114.7 114.7 0 0 1 633.05 120.45 L633.05 139.35 A95.8 95.8 0 0 0 537.96 223.47 Z" fill="#36a2eb" stroke="#fff" stroke-width="0.8" stroke-linejoin="bevel"/></svg>
</body></html>
